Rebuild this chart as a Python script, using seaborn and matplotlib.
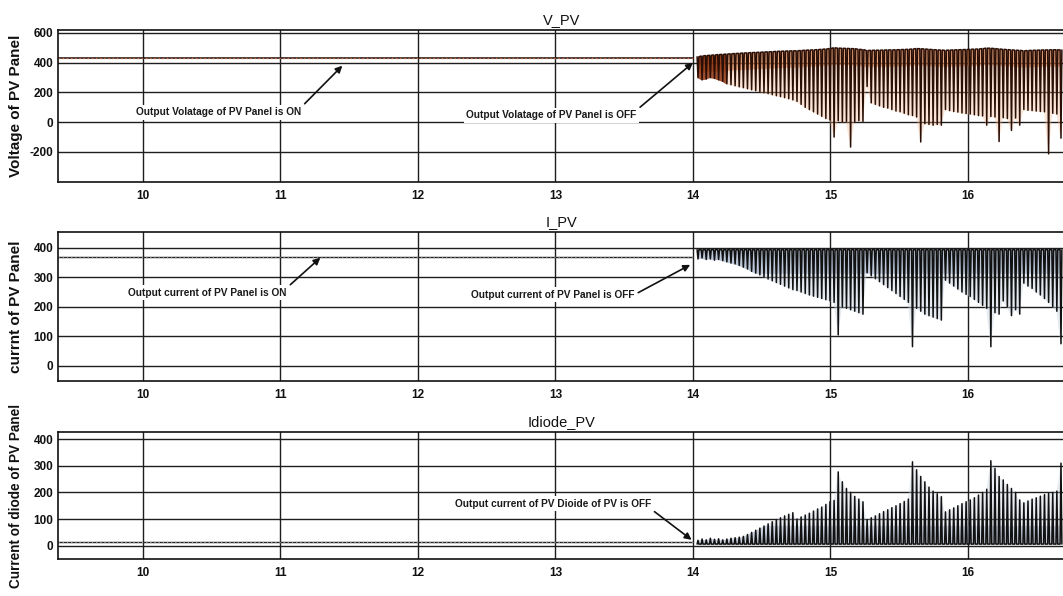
import numpy as np
import pandas as pd
import matplotlib
matplotlib.use("Agg")
import matplotlib.pyplot as plt
import seaborn as sns

# ---------------- data ----------------
x_ticks = [10, 11, 12, 13, 14, 15, 16]
v_ticks = [-200, 0, 200, 400, 600]
i_ticks = [0, 100, 200, 300, 400]
d_ticks = [0, 100, 200, 300, 400]

# steady "ON" segment (9.38 s .. 14 s)
t_on = [9.38, 14.0]
v_on = [435, 435]
i_on = [368, 368]
d_on = [14, 14]

# switching segment after 14 s: sample instants of each spike
t_sw = [14.03, 14.06, 14.09, 14.12, 14.15, 14.18, 14.21, 14.24, 14.27, 14.30,
        14.33, 14.36, 14.39, 14.42, 14.45, 14.48, 14.51, 14.54, 14.57, 14.60,
        14.63, 14.66, 14.69, 14.72, 14.75, 14.78, 14.81, 14.84, 14.87, 14.90,
        14.93, 14.96, 14.99, 15.02, 15.05, 15.08, 15.11, 15.14, 15.17, 15.20,
        15.23, 15.26, 15.29, 15.32, 15.35, 15.38, 15.41, 15.44, 15.47, 15.50,
        15.53, 15.56, 15.59, 15.62, 15.65, 15.68, 15.71, 15.74, 15.77, 15.80,
        15.83, 15.86, 15.89, 15.92, 15.95, 15.98, 16.01, 16.04, 16.07, 16.10,
        16.13, 16.16, 16.19, 16.22, 16.25, 16.28, 16.31, 16.34, 16.37, 16.40,
        16.43, 16.46, 16.49, 16.52, 16.55, 16.58, 16.61, 16.64, 16.67]

# PV voltage: upper and lower end of each spike
v_top = [440,
         445, 448, 450, 452, 455, 456, 458, 460, 462, 463,
         465, 466, 468, 469, 470, 472, 473, 474, 476, 477,
         478, 479, 480, 480, 482, 484, 485, 486, 488, 490,
         492, 495, 500, 498, 497, 496, 495, 494, 490, 488,
         482, 483, 484, 484, 485, 486, 486, 487, 488, 489,
         490, 492, 495, 494, 492, 490, 488, 486, 485, 483,
         485, 486, 487, 488, 489, 490, 491, 492, 495, 498,
         497, 495, 492, 490, 488, 486, 484, 483, 480, 482,
         483, 484, 485, 486, 486, 487, 487, 486]
v_bot = [300,
         285, 290, 300, 295, 285, 275,
         258, 252, 245, 238, 232, 225, 218, 212, 205, 198, 192, 185, 178, 172, 165, 158,
         150, 140, 120, 100, 85, 70, 55, 40, 25, 15,
         -100, 10, 0, 5, -167, 0, 10, 5,
         240, 130, 120, 110, 100, 95, 85, 75, 70, 60, 50, 45, 35, -133, -10, -15, -20, -15, -20,
         85, 78, 72, 68, 62, 58, 55, 50, 45, 42, -20, 38, 35, -130, 30, 25, -55, 28, -20,
         85, 80, 78, 75, 72, 70, -213, 60, 55, -107]

# PV current: upper level and lower end of each spike
i_top = 393
i_bot = [362,
         365, 360, 362, 358, 360, 356, 352, 348,
         345, 340, 334, 328, 320, 314, 308, 300, 294, 288, 282, 276, 270, 264,
         258, 255, 250, 245, 240, 236, 232, 228, 224, 220,
         215, 105, 200, 195, 190, 185, 180, 175,
         315, 305, 295, 285, 275, 265, 255, 245, 235, 225, 215, 65, 195, 185, 175, 170, 165, 160, 155,
         290, 280, 270, 260, 250, 242, 235, 225, 215, 205, 195, 65, 180, 175, 220, 200, 170, 190, 175,
         280, 270, 262, 250, 240, 228, 215, 200, 185, 75]

# diode current: base level and peak of each spike
d_base = 6
d_peak = [20,
          25, 22, 28, 24, 26, 22, 25, 28, 30, 32,
          35, 42, 50, 58, 66, 74, 82, 90, 98, 105, 112, 118, 124,
          100, 108, 115, 122, 130, 138, 145, 155, 165,
          170, 277, 240, 215, 200, 185, 175, 165,
          97, 105, 112, 120, 128, 135, 143, 150, 158, 166, 175, 315, 285, 260, 240, 220, 205, 195, 184,
          127, 135, 142, 150, 158, 165, 172, 180, 190, 200, 212, 319, 290, 260, 247, 230, 215, 200, 172,
          161, 168, 175, 180, 186, 192, 196, 200, 205, 310]

titles = ["V_PV", "I_PV", "Idiode_PV"]
ylabels = ["Voltage of PV Panel", "currnt of PV Panel", "Current of diode of PV Panel"]
ylabel_sizes = [11, 11, 9.8]

# ---------------- helpers ----------------
def comb(t, level, tip, w=0.013):
    """Each spike: held at `level`, dips/rises to `tip` and comes back."""
    tt, vv = [], []
    level = np.broadcast_to(np.asarray(level, float), (len(t),))
    for tk, h, l in zip(t, level, tip):
        tt += [tk, tk + w / 2, tk + w]
        vv += [h, l, h]
    return pd.DataFrame({"t": tt, "v": vv})


sns.set_theme(style="whitegrid")
plt.rcParams['font.family'] = ['Liberation Sans', 'DejaVu Sans']

W, H = 1063, 596
fig = plt.figure(figsize=(W / 100, H / 100), dpi=100)
fig.patch.set_facecolor("white")


def add_ax(top, bottom, left=58, right=1066):
    return fig.add_axes([left / W, 1 - bottom / H, (right - left) / W, (bottom - top) / H])


ax1 = add_ax(30, 182)
ax2 = add_ax(232, 381)
ax3 = add_ax(432, 559)
axes = [ax1, ax2, ax3]
ylims = [(-402, 620), (-51, 453), (-50, 427)]
yticks = [v_ticks, i_ticks, d_ticks]

# ---- V_PV ----
vt = np.asarray(v_top, float)
vb = np.asarray(v_bot, float)
ax1.fill_between(t_sw, vt, vb, color="#f2b58a", alpha=0.35, linewidth=0)
ax1.fill_between(t_sw, vt, np.maximum(vb, vt - 110), color="#e07232", alpha=0.5, linewidth=0)
ax1.fill_between(t_sw[:8], v_top[:8], v_bot[:8], color="#8a2a08", alpha=0.8, linewidth=0)
sns.lineplot(x=t_on, y=v_on, ax=ax1, color="#1a0a05", linewidth=1.1)
sns.lineplot(x=t_on, y=v_on, ax=ax1, color="#d07040", linewidth=1.0, linestyle=(0, (1, 2)))
sns.lineplot(data=comb(t_sw, v_top, v_bot), x="t", y="v", ax=ax1,
             color="#2a0f06", linewidth=1.1, sort=False, estimator=None)

# ---- I_PV ----
ib = np.asarray(i_bot, float)
ax2.fill_between(t_sw, i_top, ib, color="#c9d3e3", alpha=0.45, linewidth=0)
ax2.fill_between(t_sw, i_top, np.maximum(ib, i_top - 80), color="#6f86ab", alpha=0.35, linewidth=0)
sns.lineplot(x=t_on, y=i_on, ax=ax2, color="#222222", linewidth=1.0)
sns.lineplot(x=t_on, y=i_on, ax=ax2, color="#888888", linewidth=1.0, linestyle=(0, (1, 2)))
sns.lineplot(data=comb(t_sw, i_top, i_bot), x="t", y="v", ax=ax2,
             color="#111111", linewidth=1.1, sort=False, estimator=None)

# ---- Idiode_PV ----
dp = np.asarray(d_peak, float)
ax3.fill_between(t_sw, d_base, dp, color="#c4ccda", alpha=0.35, linewidth=0)
ax3.fill_between(t_sw, d_base, np.minimum(dp, d_base + 70), color="#7f90b0", alpha=0.3, linewidth=0)
sns.lineplot(x=t_on, y=d_on, ax=ax3, color="#222222", linewidth=1.0)
sns.lineplot(x=t_on, y=d_on, ax=ax3, color="#999999", linewidth=1.0, linestyle=(0, (1, 2)))
sns.lineplot(data=comb(t_sw, d_base, d_peak), x="t", y="v", ax=ax3,
             color="#111111", linewidth=1.1, sort=False, estimator=None)

for ax, title, yl, ys, lim, yt in zip(axes, titles, ylabels, ylabel_sizes, ylims, yticks):
    ax.set_facecolor("white")
    ax.set_xlim(9.382, 16.713)
    ax.set_ylim(*lim)
    ax.set_xticks(x_ticks)
    ax.set_xticklabels([str(v) for v in x_ticks], fontweight="bold", fontsize=8.5)
    ax.set_yticks(yt)
    ax.set_yticklabels([str(v) for v in yt], fontweight="bold", fontsize=8.5)
    ax.tick_params(axis="x", length=0, pad=5.5, colors="#111111")
    ax.tick_params(axis="y", length=0, pad=3.5, colors="#111111")
    ax.grid(True, color="#1e1e1e", linewidth=1.0)
    ax.set_axisbelow(True)
    for s in ax.spines.values():
        s.set_color("#111111")
        s.set_linewidth(1.2)
    ax.set_title(title, fontsize=10.5, pad=4, color="#111111")
    ax.set_xlabel("")
    ax.set_ylabel(yl, fontweight="bold", fontsize=ys, color="#111111")
    ax.yaxis.set_label_coords(-0.0347, 0.5)

# ---- annotations ----
notes = [
    (ax1, "Output Volatage of PV Panel is ON", (10.55, 67), (11.45, 380), (1.0, 1.0)),
    (ax1, "Output Volatage of PV Panel is OFF", (12.97, 47), (14.0, 400), (1.0, 1.0)),
    (ax2, "Output current of PV Panel is ON", (10.47, 247), (11.29, 366), (1.0, 1.0)),
    (ax2, "Output current of PV Panel is OFF", (12.98, 241), (13.98, 342), (1.0, 0.5)),
    (ax3, "Output current of PV Dioide of PV is OFF", (12.98, 157), (13.99, 22), (1.0, 0.0)),
]
for ax, txt, xytext, xy, rp in notes:
    ax.annotate(txt, xy=xy, xytext=xytext, textcoords="data",
                ha="center", va="center", fontsize=7.3, fontweight="bold", color="#1a1a1a",
                bbox=dict(boxstyle="square,pad=0.25", facecolor="white", edgecolor="none"),
                arrowprops=dict(arrowstyle="-|>", color="#111111", lw=1.2,
                                mutation_scale=10, relpos=rp, shrinkA=1, shrinkB=0))

fig.savefig("out.png", dpi=100, facecolor="white")
